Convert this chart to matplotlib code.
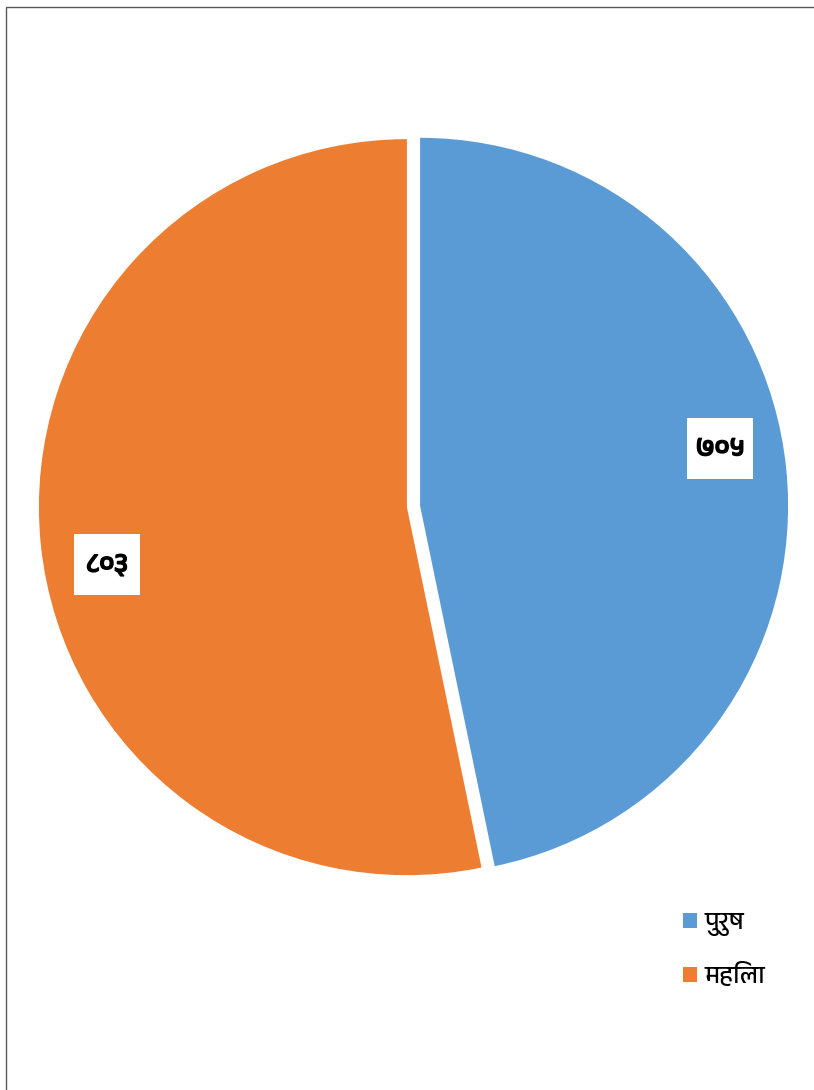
import matplotlib
matplotlib.use("Agg")
import numpy as np
import matplotlib.pyplot as plt
import matplotlib.patheffects as pe
from matplotlib import font_manager
from matplotlib.ft2font import FT2Font
from matplotlib.patches import Rectangle

# data
labels = ["पुरुष", "महिला"]
values = [705, 803]
colors = ["#5B9BD5", "#ED7D31"]

DEVA_DIGITS = str.maketrans("0123456789", "०१२३४५६७८९")


def find_deva_font():
    # pick an installed family that actually has Devanagari glyphs
    for f in font_manager.fontManager.ttflist:
        if "Devanagari" in f.name:
            return f.name
    for f in font_manager.fontManager.ttflist:
        try:
            cmap = FT2Font(f.fname).get_charmap()
        except Exception:
            continue
        if 0x0915 in cmap and 0x0967 in cmap:
            return f.name
    return None


deva = find_deva_font()
families = [deva, "DejaVu Sans"] if deva else ["DejaVu Sans"]
plt.rcParams["font.family"] = families

W, H = 814, 1090
fig = plt.figure(figsize=(W / 100, H / 100), dpi=100)

# chart area frame (gray line at left and top)
fig.patches.append(Rectangle((6 / W, -0.1), 1.2, 1 - 7 / H + 0.1,
                             transform=fig.transFigure, fill=False,
                             edgecolor="#595959", linewidth=1.0))

R = 368.0
cx, cy = 413.5, H - 506.5
lim = 1.1
side = 2 * lim * R
ax = fig.add_axes([(cx - side / 2) / W, (cy - side / 2) / H, side / W, side / H])

explode = 0.018
wedges, _ = ax.pie(values, colors=colors, startangle=90, counterclock=False,
                   explode=[explode] * len(values), radius=1.0,
                   wedgeprops=dict(linewidth=0))

# value labels in white boxes
bw, bh = 66 / R, 61 / R
for w, v in zip(wedges, values):
    mid = np.deg2rad((w.theta1 + w.theta2) / 2 + 5)
    x = w.center[0] + 0.83 * np.cos(mid)
    y = w.center[1] + 0.83 * np.sin(mid)
    ax.add_patch(Rectangle((x - bw / 2, y - bh / 2), bw, bh,
                           facecolor="white", edgecolor="none", zorder=3))
    ax.text(x, y, str(v).translate(DEVA_DIGITS), ha="center", va="center",
            fontsize=19.5, color="black", zorder=4,
            path_effects=[pe.withStroke(linewidth=1.1, foreground="black")])

ax.set_xlim(-lim, lim)
ax.set_ylim(-lim, lim)
ax.set_aspect("equal")
ax.axis("off")

fig.legend(wedges, labels, loc="upper left",
           bbox_to_anchor=(683 / W, 1 - 912 / H),
           frameon=False, fontsize=18, borderpad=0, borderaxespad=0,
           handlelength=0.56, handleheight=0.56,
           handletextpad=0.3, labelspacing=1.05)

fig.savefig("out.png", dpi=100)
